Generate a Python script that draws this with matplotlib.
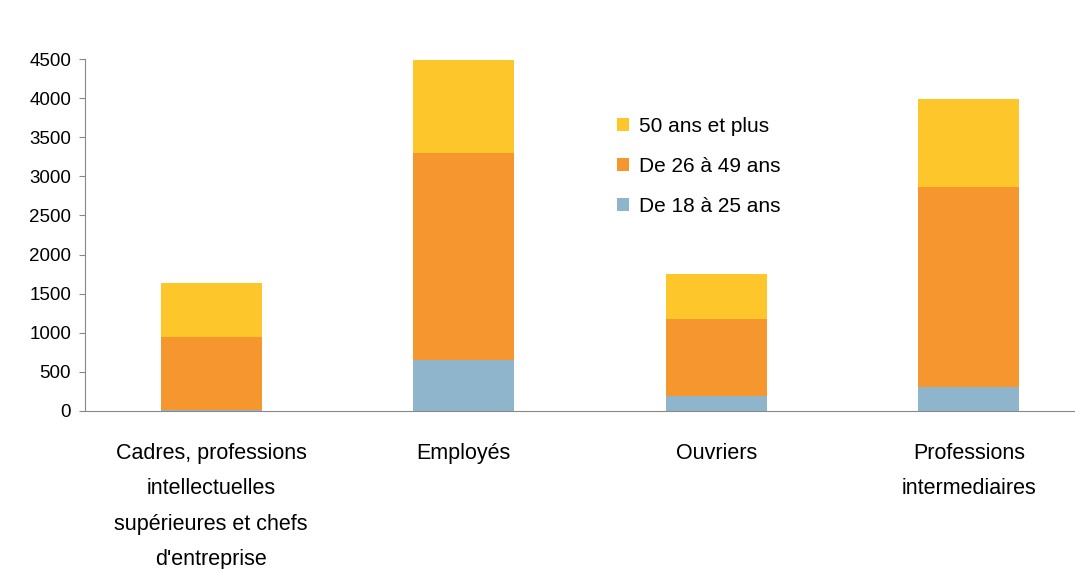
import matplotlib
matplotlib.use("Agg")
import matplotlib.pyplot as plt
import numpy as np

plt.rcParams['font.family'] = ['Liberation Sans Narrow', 'Liberation Sans', 'DejaVu Sans']

categories = ["Cadres, professions\nintellectuelles\nsupérieures et chefs\nd'entreprise",
              "Employés", "Ouvriers", "Professions\nintermediaires"]
age_18_25 = [5, 650, 195, 310]
age_26_49 = [935, 2650, 980, 2560]
age_50_plus = [700, 1190, 570, 1120]
series_names = ["De 18 à 25 ans", "De 26 à 49 ans", "50 ans et plus"]
colors = ["#8fb5cc", "#f6962e", "#fdc72b"]

fig = plt.figure(figsize=(10.75, 5.69), dpi=100)
ax = fig.add_axes([0.079, 0.278, 0.921, 0.618])

x = np.arange(len(categories))
bottom = np.zeros(len(categories))
handles = []
for vals, name, c in zip([age_18_25, age_26_49, age_50_plus], series_names, colors):
    b = ax.bar(x, vals, width=0.4, bottom=bottom, color=c, label=name)
    bottom += np.array(vals)
    handles.append(b)

ax.set_xlim(-0.5, 3.42)
ax.set_ylim(0, 4500)
ax.set_yticks(range(0, 4501, 500))
ax.tick_params(axis='y', labelsize=13.5, length=4, color='#888888', direction='out', pad=6)
ax.tick_params(axis='x', length=0, labelsize=15.5, pad=23)
ax.set_xticks(x)
ax.set_xticklabels(categories, linespacing=1.9, va='top')
for side in ['top', 'right']:
    ax.spines[side].set_visible(False)
ax.spines['left'].set_color('#888888')
ax.spines['bottom'].set_color('#888888')

leg = ax.legend(handles[::-1], series_names[::-1], loc='upper left',
                bbox_to_anchor=(0.518, 0.889), frameon=False, fontsize=15,
                handlelength=0.6, handleheight=0.6, handletextpad=0.5,
                labelspacing=1.0)

fig.savefig("out.png", dpi=100)
